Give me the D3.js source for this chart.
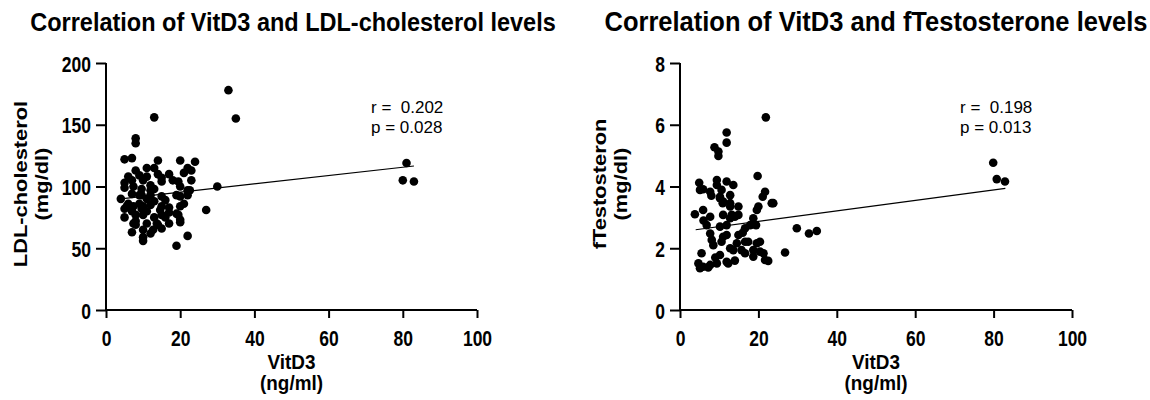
<!DOCTYPE html>
<html>
<head>
<meta charset="utf-8">
<script src="https://cdn.jsdelivr.net/npm/d3@7"></script>
<style>
  body { margin: 0; background: #fff; }
  svg { font-family: "Liberation Sans", Arial, sans-serif; }
</style>
</head>
<body>
<svg id="chart" width="1150" height="400"></svg>
<script>
// LDL-cholesterol panel
const ldlVitD = [13,8,8,5,7,14,20,24,22,21,8,11,13,23,5,5,7,10,12,15,18,19.5,20,13,4,9,15,20,22,27,5,7.4,10,12,15,17,20,5,8,10,13,15,19.5,8,11,14,17,20,7,10,10,12,15,22,19,33,35,30,81,80,83,9,11,7.4,12,15,22.6,9.6,7,19,22,9.6,12,5.6,9.6,14.6,7,11,16,19,20,7.4,13.7,10,12.7,17,23,6,16,13,11,21,17,8,14,9,6];
const ldlValues = [156,139,135,122,123,121,121,120,115,111,113,115,115,105,103,99,105,105,101,107,105,104,100,98,90,93,92,92,97,81,82,84,84,85,84,83,84,75,77,77,75,77,77,69,70,69,70,71,63,59,56,62,66,60,52,178,155,100,119,105,104,109,108,100,97,104,97,98,94,93,93,93,93,84,82,81,80,80,75,78,73,70,70,65,65,110,113,86,89,88,90,86,79,72,110,86,108];
const ldlFit = { x: [4, 83], y: [90, 116.6] };
const ldlStats = ["r =  0.202", "p = 0.028"];

// fTestosterone panel
const testVitD = [21.9,11.9,11.9,8.8,9.8,9.8,4.9,5.9,9.4,9.4,11.9,13.6,19.8,10.6,7.7,12.8,10.2,21.7,21.1,23.8,20,11,12.8,14.9,14.9,5.9,3.8,7.7,11,12.8,14,6.8,10.2,11.9,18.7,16.6,17.9,19.4,29.8,7.7,11.9,14.9,8.1,11,10.6,14.5,16.6,19.6,17.4,20.4,8.5,12.8,15.7,18.7,20.4,26.8,5.5,10.2,13.6,16.6,21.3,4.7,5.1,5.9,7.2,9.4,12.3,11.9,7.7,18.7,21.7,22.5,32.9,34.9,79.9,80.8,82.9,5.1,23.4,19.6,13.2,10.9,12.8,10.2,8,6,16,9,14];
const testValues = [6.24,5.75,5.42,5.27,5.13,4.99,4.12,3.91,4.05,4.21,4.16,4.05,4.34,3.89,3.83,3.72,3.67,3.83,3.67,3.46,3.35,3.51,3.35,3.35,3.08,3.24,3.1,3.02,3.08,2.97,3.02,2.75,2.7,2.75,2.97,2.65,2.75,2.75,2.65,2.48,2.43,2.43,2.27,2.37,2.21,2.16,2.21,2.16,2.21,2.21,2.1,2.0,1.94,1.94,1.89,1.86,1.84,1.78,1.94,1.84,1.84,1.51,1.35,1.4,1.38,1.51,1.51,1.56,1.46,1.73,1.62,1.59,2.48,2.56,4.77,4.24,4.16,3.89,3.46,3.24,3.08,3.46,3.46,3.62,3.7,2.9,2.5,1.7,1.6];
const testFit = { x: [4, 83], y: [2.6, 3.94] };
const testStats = ["r =  0.198", "p = 0.013"];

const xTicks = [0, 20, 40, 60, 80, 100];

const svg = d3.select("#chart");

// text drawn at (x, y) and stretched by sx / sy
function label(g, x, y, txt, size, sx, sy, rot) {
  return g.append("text")
    .attr("transform", `translate(${x},${y})${rot ? " rotate(" + rot + ")" : ""} scale(${sx},${sy})`)
    .attr("text-anchor", "middle")
    .style("font-size", size + "px").style("font-weight", "bold")
    .text(txt);
}

function drawPanel(opts) {
  const g = svg.append("g");
  const x = d3.scaleLinear().domain([0, 100]).range([opts.left, opts.right]);
  const y = d3.scaleLinear().domain([0, opts.yMax]).range([310, 63]);

  label(g, opts.titleX, 31, opts.title, opts.titleSize, 1, 1.1);

  // axes
  const xAxis = g.append("g")
    .attr("transform", "translate(0,310)")
    .call(d3.axisBottom(x).tickValues(xTicks).tickSize(8));
  const yAxis = g.append("g")
    .attr("transform", `translate(${opts.left},0)`)
    .call(d3.axisLeft(y).tickValues(opts.yTicks).tickSize(10));
  xAxis.select(".domain").attr("d", `M${opts.left},0H${opts.right}`);
  yAxis.select(".domain").attr("d", "M0,311V63");
  [xAxis, yAxis].forEach(a => {
    a.select(".domain").attr("stroke-width", 2);
    a.selectAll(".tick line").attr("stroke-width", 2);
    a.selectAll(".tick text")
      .attr("fill", "#000").attr("x", 0).attr("y", 0).attr("dy", null)
      .style("font-size", "17.5px").style("font-weight", "bold")
      .style("font-family", '"Liberation Sans", Arial, sans-serif');
  });
  xAxis.selectAll(".tick text").attr("transform", "translate(0,36) scale(1,1.3)");
  yAxis.selectAll(".tick text").attr("transform", "translate(-15,8) scale(1,1.3)");

  // axis titles
  const xc = (opts.left + opts.right) / 2;
  label(g, xc, 369, "VitD3", 18, 1.05, 1.1);
  label(g, xc, 390, "(ng/ml)", 18, 1.05, 1.1);
  label(g, opts.yLabelX, 184, opts.yLabel, 19, 1.15, 1, -90);
  label(g, opts.yLabelX + 21, 184, "(mg/dl)", 19, 1.15, 1, -90);

  // fit line
  g.append("line")
    .attr("x1", x(opts.fit.x[0])).attr("y1", y(opts.fit.y[0]))
    .attr("x2", x(opts.fit.x[1])).attr("y2", y(opts.fit.y[1]))
    .attr("stroke", "#000").attr("stroke-width", 1.2);

  // points
  g.selectAll("circle")
    .data(opts.xs.map((v, i) => [v, opts.ys[i]]))
    .join("circle")
    .attr("cx", d => x(d[0]))
    .attr("cy", d => y(d[1]))
    .attr("r", 4.3)
    .attr("fill", "#000");

  // stats
  opts.stats.forEach((s, i) => {
    g.append("text")
      .attr("x", opts.statsX).attr("y", 113 + i * 20)
      .style("font-size", "17px").style("white-space", "pre")
      .text(s);
  });
}

drawPanel({
  title: "Correlation of VitD3 and LDL-cholesterol levels", titleSize: 23.5,
  titleX: 293, left: 106, right: 477, yMax: 200, yTicks: [0, 50, 100, 150, 200],
  yLabel: "LDL-cholesterol", yLabelX: 27,
  xs: ldlVitD, ys: ldlValues, fit: ldlFit, stats: ldlStats, statsX: 371
});

drawPanel({
  title: "Correlation of VitD3 and fTestosterone levels", titleSize: 25.5,
  titleX: 876, left: 680, right: 1072, yMax: 8, yTicks: [0, 2, 4, 6, 8],
  yLabel: "fTestosteron", yLabelX: 606,
  xs: testVitD, ys: testValues, fit: testFit, stats: testStats, statsX: 960
});
</script>
</body>
</html>
